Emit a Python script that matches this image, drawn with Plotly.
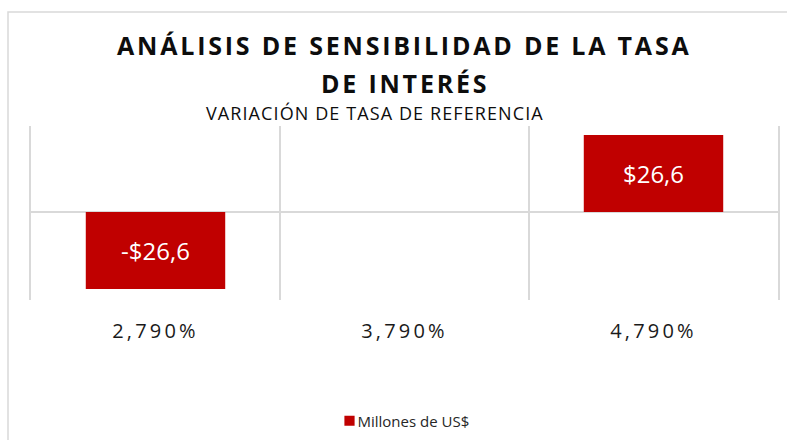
import plotly.graph_objects as go

categories = ["2,790%", "3,790%", "4,790%"]
values = [-26.6, 0.0, 26.6]
series_name = "Millones de US$"
title_line1 = "ANÁLISIS DE SENSIBILIDAD DE LA TASA"
title_line2 = "DE INTERÉS"
subtitle_text = "VARIACIÓN DE TASA DE REFERENCIA"

def fmt(v):
    if v == 0:
        return ""
    s = f"{abs(v):.1f}".replace(".", ",")
    return ("-$" if v < 0 else "$") + s

labels = [fmt(v) for v in values]

W, H = 787, 440
L, R, T, B = 31, 9, 126, 140
ph = H - T - B
pw = W - L - R

def py(pix):
    return (H - B - pix) / ph

def px(pix):
    return (pix - L) / pw

fig = go.Figure()
fig.add_trace(go.Bar(
    x=categories, y=values, name=series_name,
    marker=dict(color="#C00000", line=dict(width=0)),
    width=0.56,
    text=labels, textposition="inside", insidetextanchor="middle",
    textfont=dict(family="Open Sans", size=24, color="white"),
    showlegend=True,
))

title_font = dict(family="Open Sans", size=25, color="#0d0d0d", weight="bold")
fig.update_layout(
    width=W, height=H,
    margin=dict(l=L, r=R, t=T, b=B, autoexpand=False),
    paper_bgcolor="white", plot_bgcolor="white",
    xaxis=dict(type="category", tickson="boundaries", showgrid=True,
               gridcolor="#D9D9D9", gridwidth=1.5, showline=False, ticks="",
               ticklabelstandoff=17, automargin=False,
               tickfont=dict(family="Open Sans", size=20, color="#1a1a1a")),
    yaxis=dict(range=[-30.4, 29.7], showgrid=False, showticklabels=False,
               zeroline=True, zerolinecolor="#D9D9D9", zerolinewidth=1.5,
               showline=True, mirror=True, linecolor="#D9D9D9", linewidth=1.5,
               ticks="", automargin=False),
    legend=dict(orientation="h", x=396 / W, xanchor="center", xref="container",
                y=(H - 421) / H, yanchor="middle", yref="container",
                font=dict(family="Open Sans", size=15, color="#262626"),
                bgcolor="rgba(0,0,0,0)"),
    annotations=[
        dict(text=title_line1, x=0.5, xref="paper", xanchor="center",
             y=py(45), yref="paper", yanchor="middle", showarrow=False,
             font=title_font),
        dict(text=title_line2, x=0.5, xref="paper", xanchor="center",
             y=py(83), yref="paper", yanchor="middle", showarrow=False,
             font=title_font),
        dict(text=subtitle_text, x=px(375), xref="paper", xanchor="center",
             y=py(113), yref="paper", yanchor="middle", showarrow=False,
             font=dict(family="Open Sans", size=18, color="#0d0d0d")),
    ],
    shapes=[dict(type="rect", xref="paper", yref="paper",
                 x0=px(8), x1=1.2,
                 y0=-2, y1=py(12),
                 line=dict(color="#D9D9D9", width=1.5), fillcolor="rgba(0,0,0,0)",
                 layer="below")],
)

post = """
document.body.style.margin='0';
var gd = document.getElementsByClassName('plotly-graph-div')[0];
function sp(){
  var a = gd.querySelectorAll('.annotation-text');
  if (a.length >= 3) {
    a[0].style.letterSpacing='2.8px';
    a[1].style.letterSpacing='2.8px';
    a[2].style.letterSpacing='1.1px';
  }
  gd.querySelectorAll('.xtick text').forEach(function(t){t.style.letterSpacing='3.2px';});
  var lp = gd.querySelector('.legend .legendpoints');
  if (lp) { lp.setAttribute('transform','translate(15,0) scale(0.85)'); }
}
sp();
"""

fig.write_html("out.html", post_script=post, config={"displayModeBar": False})
